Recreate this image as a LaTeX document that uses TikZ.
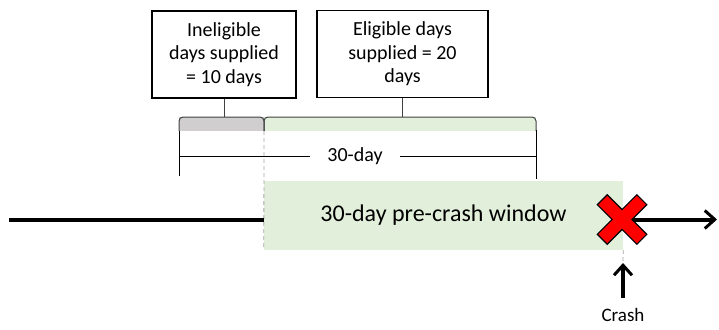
\documentclass[tikz,border=0pt]{standalone}
\usepackage{fontspec}
\setmainfont{Carlito}
\usetikzlibrary{arrows.meta, positioning, calc}

\definecolor{ineligGray}{HTML}{D0CECE}
\definecolor{eligGreen}{HTML}{E2EFDA}
\definecolor{braceLine}{HTML}{404040}
\definecolor{guideGray}{HTML}{A6A6A6}

\tikzset{
  infobox/.style={draw, line width=1.5pt, align=center, inner sep=0pt,
    font=\fontsize{20}{23.5}\selectfont},
  braceedge/.style={draw=braceLine, line width=1pt, rounded corners=4pt},
  dimline/.style={line width=1pt},
  guide/.style={draw=guideGray, line width=0.8pt, dash pattern=on 4pt off 3pt},
  timeline/.style={line width=4pt},
  bigarrow/.style={line width=4pt, -{Straight Barb[length=10pt, width=18pt, line width=3pt]}}
}

\begin{document}
\begin{tikzpicture}[x=1pt, y=-1pt]
    \useasboundingbox (0,0) rectangle (719,329);

    % boxes with the supplied days
    \node[infobox, minimum width=144pt, minimum height=87pt] (inel) at (224,54.5) {Ineligible\\days supplied\\= 10 days};
    \node[infobox, minimum width=171pt, minimum height=87pt] (elig) at (402.5,54) {Eligible days\\supplied = 20\\days};

    % braces under the boxes
    \coordinate (inelTip) at (inel.south |- 0,117);
    \coordinate (eligTip) at (elig.south |- 0,117);
    \fill[ineligGray] (179,117) rectangle (264,131);
    \fill[eligGreen] (264,117) rectangle (536,131);
    \path[braceedge] (179,131) -- (179,117) -- (264,117) -- (264,131);
    \path[braceedge] (264,131) -- (264,117) -- (536,117) -- (536,131);
    \draw[braceLine, line width=1pt] (inel.south) -- (inelTip);
    \draw[braceLine, line width=1pt] (elig.south) -- (eligTip);

    % 30-day span
    \node[font=\fontsize{20}{24}\selectfont, inner xsep=17pt] (span) at (355,156) {30-day};
    \draw[dimline] (179,131) -- (179,176);
    \draw[dimline] (536,130) -- (536,179);
    \draw[dimline] (179,156) -- (span.west);
    \draw[dimline] (span.east) -- (536,156);

    % timeline and window
    \coordinate (tlStart) at (9,219.5);
    \coordinate (tlEnd) at (717,219.5);
    \coordinate (crashPt) at (622,219.5);
    \node[fill=eligGreen, minimum width=359pt, minimum height=69pt, inner sep=0pt,
      font=\fontsize{24}{28}\selectfont] (win) at (443.5,215.5) {30-day pre-crash window};
    \draw[guide] (264,131) -- (win.south west);
    \draw[timeline] (tlStart) -- (tlStart -| win.west);
    \draw[bigarrow] (crashPt) -- (tlEnd);

    % crash mark
    \begin{scope}[shift={(crashPt)}, rotate=45]
        \filldraw[fill=red, draw=black, line width=1.2pt]
          (7,7) -- (28,7) -- (28,-7) -- (7,-7) -- (7,-28) -- (-7,-28) -- (-7,-7)
          -- (-28,-7) -- (-28,7) -- (-7,7) -- (-7,28) -- (7,28) -- cycle;
    \end{scope}

    % crash label
    \node[font=\fontsize{19}{22}\selectfont] (crash) at (623,315) {Crash};
    \coordinate (crashTail) at (623,298);
    \coordinate (crashTip) at (623,263);
    \draw[guide] (win.south east) -- (crashTip);
    \draw[bigarrow] (crashTail) -- (crashTip);
\end{tikzpicture}
\end{document}
